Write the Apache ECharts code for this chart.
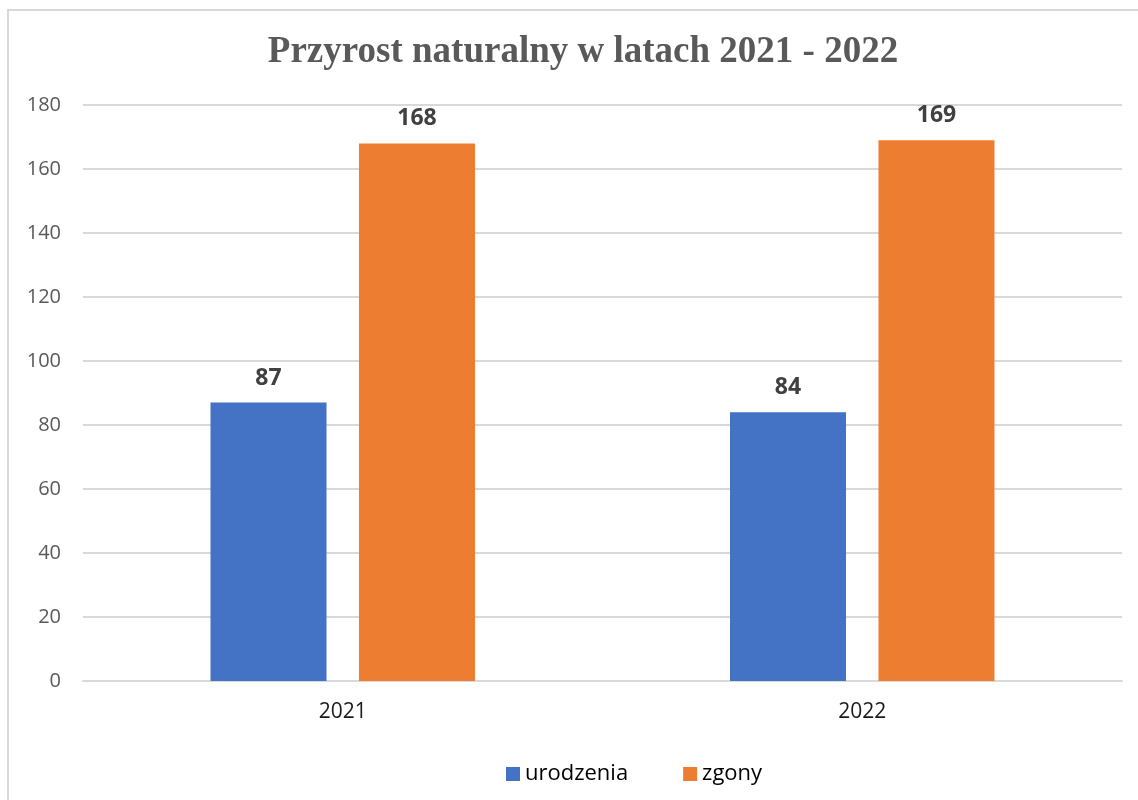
<!DOCTYPE html>
<html>
<head>
<meta charset="utf-8">
<script src="https://cdn.jsdelivr.net/npm/echarts@6/dist/echarts.min.js"></script>
<style>
  html, body { margin: 0; padding: 0; background: #fff; overflow: hidden; }
  #frame { position: absolute; left: 7px; top: 9px; width: 1200px; height: 900px; border: 2px solid #d9d9d9; }
  #chart { position: absolute; left: 0; top: 0; width: 1138px; height: 800px; }
</style>
</head>
<body>
<div id="frame"></div>
<div id="chart"></div>
<script>
// kategorie i dane
const years = ['2021', '2022']
const urodzenia = [87, 84]
const zgony = [168, 169]
const yTicks = { min: 0, max: 180, interval: 20 }

const chart = echarts.init(document.getElementById('chart'))

const labelStyle = {
    show: true,
    position: 'top',
    distance: 13,
    fontFamily: 'Open Sans',
    fontWeight: 'bold',
    fontSize: 23,
    color: '#404040'
}

const option = {
    animation: false,
    title: {
        text: 'Przyrost naturalny w latach 2021 - 2022',
        left: 578,
        top: 29,
        textAlign: 'center',
        textStyle: {
            fontFamily: 'Liberation Serif',
            fontWeight: 'bold',
            fontSize: 37,
            color: '#595959'
        }
    },
    legend: {
        left: 501,
        top: 758,
        itemWidth: 14,
        itemHeight: 14,
        itemGap: 55,
        itemTextGap: 7,
        icon: 'rect',
        textStyle: { fontFamily: 'Open Sans', fontSize: 22, color: '#000' },
        data: ['urodzenia', 'zgony']
    },
    grid: { left: 83, right: 16, top: 105, bottom: 119, containLabel: false },
    xAxis: {
        type: 'category',
        data: years,
        axisLine: { lineStyle: { color: '#d9d9d9', width: 2 } },
        axisTick: { show: false },
        axisLabel: { fontFamily: 'Open Sans', fontSize: 21, color: '#1a1a1a', margin: 21 }
    },
    yAxis: {
        type: 'value',
        min: yTicks.min,
        max: yTicks.max,
        interval: yTicks.interval,
        axisLine: { show: false },
        axisTick: { show: false },
        axisLabel: { fontFamily: 'Open Sans', fontSize: 20, color: '#595959', margin: 22 },
        splitLine: { lineStyle: { color: '#d9d9d9', width: 2 } }
    },
    series: [
        {
            name: 'urodzenia',
            type: 'bar',
            data: urodzenia,
            barWidth: 116,
            barGap: '28%',
            itemStyle: { color: '#4472c4' },
            label: labelStyle
        },
        {
            name: 'zgony',
            type: 'bar',
            data: zgony,
            barWidth: 116,
            itemStyle: { color: '#ed7d31' },
            label: labelStyle
        }
    ]
}

chart.setOption(option)
</script>
</body>
</html>
